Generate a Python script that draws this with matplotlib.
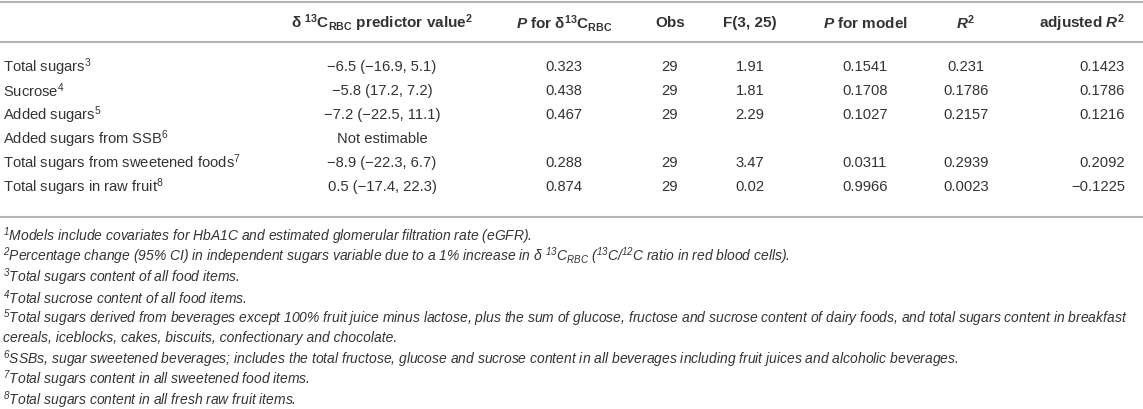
import matplotlib
matplotlib.use("Agg")
import matplotlib.pyplot as plt

plt.rcParams['font.family'] = ['Liberation Sans', 'DejaVu Sans']
plt.rcParams['mathtext.fontset'] = 'custom'
plt.rcParams['mathtext.rm'] = 'Liberation Sans'
plt.rcParams['mathtext.it'] = 'Liberation Sans:italic:bold'
plt.rcParams['mathtext.bf'] = 'Liberation Sans:bold'
plt.rcParams['mathtext.default'] = 'regular'

# ---- data ----
headers = [r"δ $^{13}$C$_{RBC}$ predictor value$^{2}$",
           r"$\mathit{P}$ for δ$^{13}$C$_{RBC}$",
           "Obs", "F(3, 25)",
           r"$\mathit{P}$ for model",
           r"$\mathit{R}^{2}$",
           r"adjusted $\mathit{R}^{2}$"]
row_labels = ["Total sugars", "Sucrose", "Added sugars", "Added sugars from SSB",
              "Total sugars from sweetened foods", "Total sugars in raw fruit"]
row_notes = ["3", "4", "5", "6", "7", "8"]
predictor = ["−6.5 (−16.9, 5.1)", "−5.8 (17.2, 7.2)", "−7.2 (−22.5, 11.1)",
             "Not estimable", "−8.9 (−22.3, 6.7)", "0.5 (−17.4, 22.3)"]
p_delta = ["0.323", "0.438", "0.467", "", "0.288", "0.874"]
obs = ["29", "29", "29", "", "29", "29"]
f_stat = ["1.91", "1.81", "2.29", "", "3.47", "0.02"]
p_model = ["0.1541", "0.1708", "0.1027", "", "0.0311", "0.9966"]
r2 = ["0.231", "0.1786", "0.2157", "", "0.2939", "0.0023"]
adj_r2 = ["0.1423", "0.1786", "0.1216", "", "0.2092", "−0.1225"]
footnotes = [
    r"$^{1}$Models include covariates for HbA1C and estimated glomerular filtration rate (eGFR).",
    r"$^{2}$Percentage change (95% CI) in independent sugars variable due to a 1% increase in δ $^{13}$C$_{RBC}$ ($^{13}$C/$^{12}$C ratio in red blood cells).",
    r"$^{3}$Total sugars content of all food items.",
    r"$^{4}$Total sucrose content of all food items.",
    r"$^{5}$Total sugars derived from beverages except 100% fruit juice minus lactose, plus the sum of glucose, fructose and sucrose content of dairy foods, and total sugars content in breakfast",
    "cereals, iceblocks, cakes, biscuits, confectionary and chocolate.",
    r"$^{6}$SSBs, sugar sweetened beverages; includes the total fructose, glucose and sucrose content in all beverages including fruit juices and alcoholic beverages.",
    r"$^{7}$Total sugars content in all sweetened food items.",
    r"$^{8}$Total sugars content in all fresh raw fruit items.",
]

# ---- layout (pixels) ----
W, H = 1143, 410
fig = plt.figure(figsize=(W / 100, H / 100), dpi=100)
ax = fig.add_axes([0, 0, 1, 1])
ax.set_xlim(0, W)
ax.set_ylim(H, 0)
ax.axis("off")

fs = 10.6
fs_head = 11.0
fs_note = 10.0
txt_col = "#333333"
line_col = "#b4b4b4"

col_x = [382, 564, 670, 750, 865, 966, 1125]
col_ha = ["center", "center", "center", "center", "center", "center", "right"]
header_y = 23
row_y0, row_dy = 67, 24
lines_y = [3, 43, 218]
note_y0, note_dy = 236, 20.5

for y in lines_y:
    ax.plot([0, W], [y, y], color=line_col, lw=1.5, solid_capstyle="butt")

for x, ha, h in zip(col_x, col_ha, headers):
    ax.text(x, header_y, h, ha=ha, va="center", fontsize=fs_head, fontweight="bold", color=txt_col)

columns = [predictor, p_delta, obs, f_stat, p_model, r2, adj_r2]
for i, (lab, note) in enumerate(zip(row_labels, row_notes)):
    y = row_y0 + i * row_dy
    ax.text(3, y, lab + r"$^{" + note + "}$", ha="left", va="center", fontsize=fs, color=txt_col)
    for x, ha, col in zip(col_x, col_ha, columns):
        if col[i]:
            ax.text(x, y, col[i], ha=ha, va="center", fontsize=fs, color=txt_col)

for j, note in enumerate(footnotes):
    ax.text(3, note_y0 + j * note_dy, note, ha="left", va="center", fontsize=fs_note,
            style="italic", color=txt_col)

fig.savefig("out.png", dpi=100)
